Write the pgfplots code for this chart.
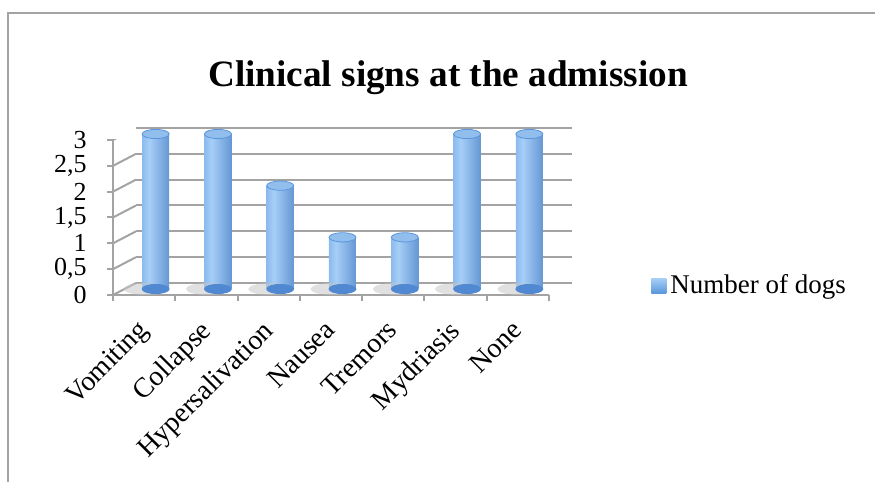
\documentclass[border=0pt]{standalone}
\usepackage{fontspec}
\setmainfont{Liberation Serif}
\usepackage{pgfplots}
\pgfplotsset{compat=1.18}
\definecolor{gridgray}{HTML}{A3A3A3}
\definecolor{cylL}{HTML}{5A96DC}
\definecolor{cylM}{HTML}{A6CEF7}
\definecolor{cylR}{HTML}{3A72BC}
\definecolor{cyltopc}{HTML}{92BEEE}
\definecolor{cylbot}{HTML}{5089D1}
\pgfdeclarehorizontalshading{cyl}{100bp}{color(0bp)=(cylL); color(38bp)=(cylM); color(100bp)=(cylR)}
\pgfdeclareplotmark{cylend}{\pgfpathellipse{\pgfpointorigin}{\pgfqpoint{6.75pt}{0pt}}{\pgfqpoint{0pt}{2.3pt}}\pgfusepathqfillstroke}
\pgfdeclareplotmark{cylshadow}{\pgfpathellipse{\pgfpointorigin}{\pgfqpoint{11pt}{0pt}}{\pgfqpoint{0pt}{3pt}}\pgfusepathqfill}
\newcommand\cylbar[2]{\addplot[ybar, bar width=13.5pt, draw=none, shade, shading=cyl, forget plot] coordinates {(#1,#2)};}
\begin{document}
\begin{tikzpicture}
\useasboundingbox (0pt,0pt) rectangle (437.5pt,241pt);
\draw[gridgray, line width=1.2pt] (4pt,0pt) -- (4pt,234.5pt) -- (437.5pt,234.5pt);
\node[font=\bfseries\fontsize{18.6}{21}\selectfont] at (224pt,202pt) {Clinical signs at the admission};
% back wall
\begin{axis}[at={(68pt,99.5pt)}, anchor=south west, scale only axis,
  width=218pt, height=77.5pt, xmin=-0.5, xmax=6.5, ymin=0, ymax=3,
  axis line style={draw=none}, xtick=\empty, ytick={0,0.5,1,1.5,2,2.5,3}, yticklabels={},
  ymajorgrids, major grid style={gridgray, line width=1pt}, major tick length=0pt]
\addplot[draw=none] coordinates {(0,0)};
\end{axis}
% front frame
\begin{axis}[at={(56.5pt,93.5pt)}, anchor=south west, scale only axis,
  width=218pt, height=77.5pt, xmin=-0.5, xmax=6.5, ymin=0, ymax=3,
  axis lines*=left, axis line style={draw=gridgray, line width=1pt},
  xtick={0,...,6},
  xticklabels={Vomiting,Collapse,Hypersalivation,Nausea,Tremors,Mydriasis,None},
  every major x tick/.append style={draw=none},
  minor xtick={-0.5,0.5,1.5,2.5,3.5,4.5,5.5,6.5}, minor tick length=3pt,
  ytick={0,0.5,1,1.5,2,2.5,3}, major tick length=3pt, tick align=outside,
  tick style={draw=gridgray, line width=1pt},
  /pgf/number format/use comma, /pgf/number format/assume math mode=true,
  yticklabel style={font=\fontsize{13}{15}\selectfont, anchor=east, inner sep=0pt, xshift=-10pt},
  xticklabel style={font=\fontsize{14}{16}\selectfont, xshift=-3.8pt, yshift=-8.5pt, rotate=45, anchor=north east, inner sep=0pt}]
\addplot[draw=none] coordinates {(0,0)};
\pgfplotsinvokeforeach{0,0.5,1,1.5,2,2.5,3}{\draw[gridgray, line width=1pt] (axis cs:-0.5,#1) -- ++(11.5pt,6pt);}
\draw[gridgray, line width=1pt] (axis cs:6.5,0) -- ++(11.5pt,6pt);
\end{axis}
% bars
\begin{axis}[at={(62.25pt,96.5pt)}, anchor=south west, scale only axis,
  width=218pt, height=77.5pt, xmin=-0.5, xmax=6.5, ymin=0, ymax=3,
  hide axis, clip=false,
  legend style={at={(1.2076,0.02)}, anchor=west, draw=none, fill=none,
    font=\fontsize{13.5}{15}\selectfont, inner sep=0pt},
  legend image code/.code={\shade[top color=cylM, bottom color=cylL] (0pt,-3.75pt) rectangle (7.5pt,3.75pt);}]
\addplot[forget plot, only marks, mark=cylshadow, mark options={fill=gray!45, opacity=0.55, xshift=-5pt}]
  coordinates {(0,0) (1,0) (2,0) (3,0) (4,0) (5,0) (6,0)};
\addplot[forget plot, only marks, mark=cylend, mark options={fill=cylbot, draw=cylbot}]
  coordinates {(0,0) (1,0) (2,0) (3,0) (4,0) (5,0) (6,0)};
\addplot[ybar, bar width=13.5pt, draw=none, shade, shading=cyl] coordinates {(0,3)};
\addlegendentry{Number of dogs}
\cylbar{1}{3}
\cylbar{2}{2}
\cylbar{3}{1}
\cylbar{4}{1}
\cylbar{5}{3}
\cylbar{6}{3}
\addplot[forget plot, only marks, mark=cylend, mark options={fill=cyltopc, draw=cylL, line width=0.4pt}]
  coordinates {(0,3) (1,3) (2,2) (3,1) (4,1) (5,3) (6,3)};
\end{axis}
\end{tikzpicture}
\end{document}
